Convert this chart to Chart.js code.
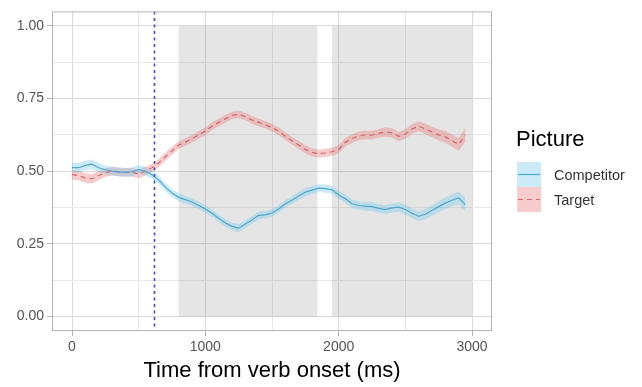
<!DOCTYPE html>
<html>
<head>
<meta charset="utf-8">
<script src="https://cdn.jsdelivr.net/npm/chart.js@4.4.1/dist/chart.umd.min.js"></script>
<style>
  html, body { margin: 0; padding: 0; background: #fff; }
  #wrap { width: 642px; height: 387px; position: relative; }
</style>
</head>
<body>
<div id="wrap"><canvas id="chart" width="642" height="387"></canvas></div>
<script>
// === DATA ===
const timeMs = [0, 50, 100, 150, 200, 250, 300, 350, 400, 450, 500, 550, 600, 650, 700, 750, 800, 850, 900, 950,
  1000, 1050, 1100, 1150, 1200, 1250, 1300, 1350, 1400, 1450, 1500, 1550, 1600, 1650, 1700, 1750, 1800, 1850, 1900, 1950,
  2000, 2050, 2100, 2150, 2200, 2250, 2300, 2350, 2400, 2450, 2500, 2550, 2600, 2650, 2700, 2750, 2800, 2850, 2900, 2950];

const competitor = [0.512, 0.512, 0.520, 0.524, 0.512, 0.505, 0.500, 0.498, 0.496, 0.498, 0.506, 0.500, 0.488, 0.470, 0.445, 0.425, 0.410, 0.402, 0.394, 0.382,
  0.370, 0.355, 0.338, 0.322, 0.310, 0.304, 0.318, 0.332, 0.348, 0.350, 0.356, 0.370, 0.388, 0.400, 0.415, 0.428, 0.435, 0.442, 0.440, 0.436,
  0.418, 0.405, 0.388, 0.382, 0.380, 0.378, 0.372, 0.368, 0.374, 0.376, 0.368, 0.355, 0.345, 0.352, 0.365, 0.378, 0.390, 0.400, 0.408, 0.385];

const target = [0.488, 0.485, 0.476, 0.474, 0.485, 0.495, 0.500, 0.498, 0.496, 0.497, 0.490, 0.500, 0.512, 0.528, 0.550, 0.570, 0.590, 0.600, 0.612, 0.625,
  0.638, 0.655, 0.668, 0.680, 0.692, 0.696, 0.688, 0.676, 0.668, 0.660, 0.650, 0.638, 0.620, 0.605, 0.590, 0.575, 0.565, 0.560, 0.563, 0.567,
  0.575, 0.600, 0.612, 0.622, 0.625, 0.624, 0.630, 0.635, 0.632, 0.620, 0.628, 0.645, 0.655, 0.645, 0.635, 0.625, 0.618, 0.605, 0.592, 0.625];

// standard error bands (half width of ribbons)
const competitorSE = [0.017, 0.017, 0.016, 0.016, 0.016, 0.015, 0.015, 0.015, 0.015, 0.015, 0.015, 0.015, 0.014, 0.014, 0.014, 0.014, 0.014, 0.013, 0.013, 0.013,
  0.013, 0.013, 0.013, 0.013, 0.013, 0.013, 0.013, 0.013, 0.013, 0.013, 0.013, 0.013, 0.013, 0.013, 0.014, 0.014, 0.014, 0.014, 0.014, 0.014,
  0.014, 0.014, 0.015, 0.015, 0.015, 0.015, 0.015, 0.016, 0.016, 0.016, 0.017, 0.017, 0.017, 0.018, 0.018, 0.019, 0.020, 0.021, 0.022, 0.024];
const targetSE = [0.017, 0.017, 0.016, 0.016, 0.016, 0.015, 0.015, 0.015, 0.015, 0.015, 0.015, 0.015, 0.014, 0.014, 0.014, 0.014, 0.014, 0.013, 0.013, 0.013,
  0.013, 0.013, 0.013, 0.013, 0.013, 0.013, 0.013, 0.013, 0.013, 0.013, 0.013, 0.013, 0.013, 0.013, 0.014, 0.014, 0.014, 0.014, 0.014, 0.014,
  0.014, 0.014, 0.015, 0.015, 0.015, 0.015, 0.015, 0.016, 0.016, 0.016, 0.017, 0.017, 0.017, 0.018, 0.018, 0.019, 0.020, 0.021, 0.022, 0.024];

const seriesNames = ["Competitor", "Target"];
const legendTitle = "Picture";
const xTitle = "Time from verb onset (ms)";

const xTicks = [0, 500, 1000, 1500, 2000, 2500, 3000];
const yTicks = [0, 0.125, 0.25, 0.375, 0.5, 0.625, 0.75, 0.875, 1];

const shadeStart = [800, 1950];
const shadeEnd = [1840, 3000];
const verbLine = 615;

// === STYLE ===
const FONT = "'Liberation Sans', Arial, sans-serif";
const lineColors = ["#4fa9cf", "#d9676b"];
const ribbonColors = ["rgba(110,200,235,0.36)", "rgba(235,120,120,0.38)"];

function pts(vals, offs = null, sign = 0) {
    return timeMs.map((t, i) => ({ x: t, y: vals[i] + (offs ? sign * offs[i] : 0) }));
}

function isMajorY(v) {
    return Math.abs(v * 4 - Math.round(v * 4)) < 1e-9;
}

const panelExtras = {
    id: "panelExtras",
    beforeDatasetsDraw(chart) {
        const { ctx, scales: { x, y } } = chart;
        ctx.save();
        ctx.fillStyle = "rgba(135,135,135,0.22)";
        shadeStart.forEach((s, i) => {
            const x0 = x.getPixelForValue(s), x1 = x.getPixelForValue(shadeEnd[i]);
            const y0 = y.getPixelForValue(1), y1 = y.getPixelForValue(0);
            ctx.fillRect(x0, y0, x1 - x0, y1 - y0);
        });
        ctx.restore();
    },
    afterDatasetsDraw(chart) {
        const { ctx, chartArea, scales: { x } } = chart;
        ctx.save();
        // verb onset marker
        const vx = Math.round(x.getPixelForValue(verbLine)) + 0.5;
        ctx.strokeStyle = "#4b4ba6";
        ctx.lineWidth = 1.6;
        ctx.setLineDash([3, 3.5]);
        ctx.beginPath();
        ctx.moveTo(vx, chartArea.top);
        ctx.lineTo(vx, chartArea.bottom);
        ctx.stroke();
        ctx.setLineDash([]);
        // panel border
        ctx.strokeStyle = "#b3b3b3";
        ctx.lineWidth = 1;
        ctx.strokeRect(chartArea.left + 0.5, chartArea.top + 0.5,
            chartArea.right - chartArea.left - 1, chartArea.bottom - chartArea.top - 1);
        ctx.restore();
    },
    afterDraw(chart) {
        const { ctx } = chart;
        ctx.save();
        ctx.fillStyle = "#000";
        ctx.font = "22px " + FONT;
        ctx.textBaseline = "middle";
        ctx.textAlign = "left";
        ctx.fillText(legendTitle, 516, 140);

        const keyX = 517, keyW = 24, keyH = 25, keyTop = 162;
        seriesNames.forEach((name, i) => {
            const ky = keyTop + i * keyH;
            ctx.fillStyle = "#fff";
            ctx.fillRect(keyX, ky, keyW, keyH);
            ctx.fillStyle = ribbonColors[i];
            ctx.fillRect(keyX, ky, keyW, keyH);
            ctx.strokeStyle = lineColors[i];
            ctx.lineWidth = 1.2;
            ctx.setLineDash(i === 1 ? [5, 4] : []);
            ctx.beginPath();
            ctx.moveTo(keyX + 1, ky + keyH / 2);
            ctx.lineTo(keyX + keyW - 1, ky + keyH / 2);
            ctx.stroke();
            ctx.setLineDash([]);
            ctx.fillStyle = "#333";
            ctx.font = "14.5px " + FONT;
            ctx.fillText(name, 554, ky + keyH / 2 + 1);
        });
        ctx.restore();
    }
};

new Chart(document.getElementById("chart"), {
    type: "line",
    data: {
        datasets: [
            { label: "compUpper", data: pts(competitor, competitorSE, 1), borderWidth: 0, pointRadius: 0,
              backgroundColor: ribbonColors[0], fill: "+1", order: 2 },
            { label: "compLower", data: pts(competitor, competitorSE, -1), borderWidth: 0, pointRadius: 0,
              fill: false, order: 2 },
            { label: "targUpper", data: pts(target, targetSE, 1), borderWidth: 0, pointRadius: 0,
              backgroundColor: ribbonColors[1], fill: "+1", order: 2 },
            { label: "targLower", data: pts(target, targetSE, -1), borderWidth: 0, pointRadius: 0,
              fill: false, order: 2 },
            { label: seriesNames[0], data: pts(competitor), borderColor: lineColors[0], borderWidth: 1.2,
              pointRadius: 0, fill: false, order: 0 },
            { label: seriesNames[1], data: pts(target), borderColor: lineColors[1], borderWidth: 1.2,
              borderDash: [5, 4], pointRadius: 0, fill: false, order: 0 }
        ]
    },
    options: {
        responsive: false,
        animation: false,
        layout: { padding: { left: 0, right: 150, top: 8, bottom: 0 } },
        plugins: { legend: { display: false }, tooltip: { enabled: false } },
        scales: {
            x: {
                type: "linear",
                min: -150,
                max: 3150,
                afterBuildTicks: (s) => { s.ticks = xTicks.map(v => ({ value: v })); },
                afterFit: (s) => { s.height = 56; },
                ticks: {
                    autoSkip: false,
                    maxRotation: 0,
                    padding: 3,
                    color: "#555",
                    font: { family: FONT, size: 14 },
                    callback: (v) => (v % 1000 === 0 ? String(v) : "")
                },
                grid: {
                    color: (c) => (c.tick && c.tick.value % 1000 === 0 ? "#dadada" : "#e8e8e8"),
                    tickColor: (c) => (c.tick && c.tick.value % 1000 === 0 ? "#b3b3b3" : "rgba(0,0,0,0)"),
                    tickLength: 5
                },
                border: { display: false },
                title: {
                    display: true,
                    text: xTitle,
                    color: "#000",
                    font: { family: FONT, size: 22 },
                    padding: { top: 0, bottom: 3 }
                }
            },
            y: {
                type: "linear",
                min: -0.05,
                max: 1.05,
                afterBuildTicks: (s) => { s.ticks = yTicks.map(v => ({ value: v })); },
                afterFit: (s) => { s.width = 52; },
                ticks: {
                    padding: 3,
                    color: "#555",
                    font: { family: FONT, size: 14 },
                    callback: (v) => (isMajorY(v) ? v.toFixed(2) : "")
                },
                grid: {
                    color: (c) => (c.tick && isMajorY(c.tick.value) ? "#dadada" : "#e8e8e8"),
                    tickColor: (c) => (c.tick && isMajorY(c.tick.value) ? "#b3b3b3" : "rgba(0,0,0,0)"),
                    tickLength: 5
                },
                border: { display: false }
            }
        }
    },
    plugins: [panelExtras]
});
</script>
</body>
</html>
